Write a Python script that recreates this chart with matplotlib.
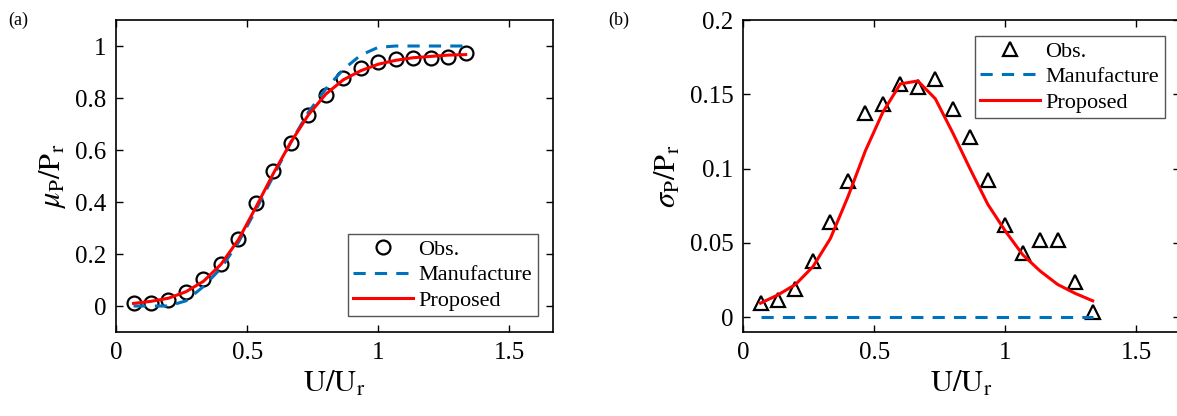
import numpy as np
import matplotlib
matplotlib.use("Agg")
import matplotlib.pyplot as plt
from matplotlib.ticker import FuncFormatter

plt.rcParams["font.family"] = ["Liberation Serif", "DejaVu Serif"]
plt.rcParams["mathtext.fontset"] = "stix"

# normalised wind speed bins
u = np.arange(1, 21) / 15.0

# mean power
mu_obs = [0.01, 0.01, 0.022, 0.054, 0.105, 0.163, 0.257, 0.398, 0.519, 0.628,
          0.734, 0.813, 0.877, 0.915, 0.94, 0.95, 0.954, 0.954, 0.956, 0.973]
mu_manu = [0.0, 0.0, 0.0, 0.02, 0.075, 0.145, 0.245, 0.37, 0.5, 0.63,
           0.745, 0.835, 0.91, 0.965, 0.995, 1.0, 1.0, 1.0, 1.0, 1.0]
mu_prop = [0.01, 0.018, 0.03, 0.055, 0.095, 0.16, 0.255, 0.38, 0.51, 0.63,
           0.735, 0.815, 0.87, 0.905, 0.93, 0.945, 0.955, 0.96, 0.965, 0.967]

# power standard deviation
sd_obs = [0.0094, 0.0117, 0.019, 0.038, 0.064, 0.0916, 0.1377, 0.1437, 0.157, 0.155,
          0.160, 0.140, 0.121, 0.092, 0.062, 0.043, 0.0517, 0.0517, 0.0234, 0.0038]
sd_manu = [0.0] * 20
sd_prop = [0.0094, 0.015, 0.022, 0.034, 0.053, 0.081, 0.112, 0.138, 0.157, 0.159,
           0.147, 0.124, 0.0995, 0.076, 0.058, 0.042, 0.031, 0.022, 0.016, 0.011]

blue = "#0072BD"
fmt = FuncFormatter(lambda v, p: "%g" % round(v, 4))


def style_axes(ax):
    ax.tick_params(direction="in", top=True, right=True, length=5, width=1,
                   labelsize=18, pad=7)
    for s in ax.spines.values():
        s.set_linewidth(1.2)
    ax.xaxis.set_major_formatter(fmt)
    ax.yaxis.set_major_formatter(fmt)
    ax.set_xlim(0, 5 / 3)
    ax.set_xticks([0, 0.5, 1, 1.5])
    ax.set_xlabel(r"${\rm U/U_r}$", fontsize=22, labelpad=4)


def add_legend(ax, loc):
    leg = ax.legend(loc=loc, fontsize=16, handlelength=2.7,
                    handletextpad=0.22, borderaxespad=0.7, fancybox=False,
                    framealpha=1, edgecolor="#555555", borderpad=0.25,
                    labelspacing=0.22)
    leg.get_frame().set_linewidth(1.0)
    return leg


fig = plt.figure(figsize=(11.77, 4.16), dpi=100)
ax1 = fig.add_axes([0.0986, 0.2019, 0.3713, 0.75])
ax2 = fig.add_axes([0.6313, 0.2019, 0.3713, 0.75])

ax1.plot(u, mu_obs, "o", color="k", mfc="none", ms=10, mew=1.6, label="Obs.")
ax1.plot(u, mu_manu, "--", color=blue, lw=2.2, dashes=(4, 3), label="Manufacture")
ax1.plot(u, mu_prop, "-", color="r", lw=2.2, label="Proposed")
ax1.set_ylim(-0.1, 1.1)
ax1.set_yticks([0, 0.2, 0.4, 0.6, 0.8, 1])
style_axes(ax1)
ax1.set_ylabel(r"$\mu_{\rm P}/{\rm P}_{\rm r}$", fontsize=22, labelpad=5)
add_legend(ax1, "lower right")

ax2.plot(u, sd_obs, "^", color="k", mfc="none", ms=10.5, mew=1.6, label="Obs.")
ax2.plot(u, sd_manu, "--", color=blue, lw=2.2, dashes=(4, 3), label="Manufacture")
ax2.plot(u, sd_prop, "-", color="r", lw=2.2, label="Proposed")
ax2.set_ylim(-0.01, 0.2)
ax2.set_yticks([0, 0.05, 0.1, 0.15, 0.2])
style_axes(ax2)
ax2.set_ylabel(r"$\sigma_{\rm P}/{\rm P}_{\rm r}$", fontsize=22, labelpad=5)
add_legend(ax2, "upper right")

fig.text(0.0068, 0.94, "(a)", fontsize=13)
fig.text(0.5166, 0.94, "(b)", fontsize=13)

fig.savefig("out.png", dpi=100)
